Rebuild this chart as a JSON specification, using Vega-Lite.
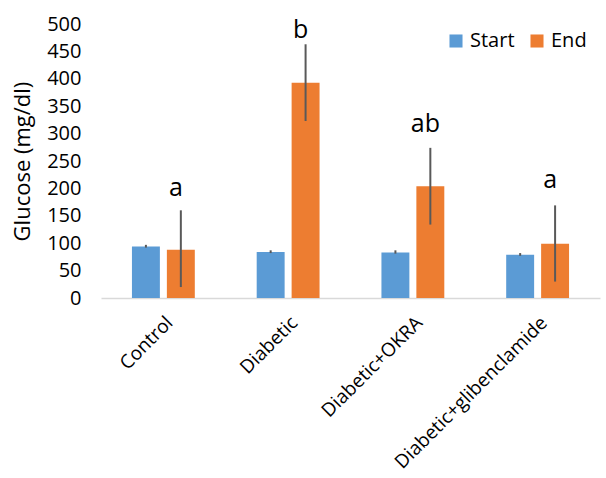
{
  "$schema": "https://vega.github.io/schema/vega-lite/v6.json",
  "width": 499,
  "height": 274,
  "autosize": {"type": "none"},
  "padding": {"left": 101, "top": 24, "right": 6, "bottom": 180},
  "background": "white",
  "config": {
    "view": {"stroke": null},
    "font": "Open Sans",
    "text": {"font": "Open Sans"},
    "axisY": {"titleFontSize": 22, "titleFontWeight": "normal", "titleColor": "#000000", "labelFontSize": 20, "labelColor": "#000000", "labelOverlap": false},
    "axisX": {"labelFontSize": 19, "labelColor": "#000000"},
    "legend": {"labelFontSize": 20, "labelColor": "#000000"}
  },
  "data": {
    "values": [
      {"group": "Control", "series": "Start", "mean": 94, "lo": 92, "hi": 97, "letter": "", "labelY": 0},
      {"group": "Control", "series": "End", "mean": 88, "lo": 20, "hi": 160, "letter": "a", "labelY": 200},
      {"group": "Diabetic", "series": "Start", "mean": 84, "lo": 82, "hi": 87, "letter": "", "labelY": 0},
      {"group": "Diabetic", "series": "End", "mean": 393, "lo": 323, "hi": 463, "letter": "b", "labelY": 489},
      {"group": "Diabetic+OKRA", "series": "Start", "mean": 83, "lo": 81, "hi": 87, "letter": "", "labelY": 0},
      {"group": "Diabetic+OKRA", "series": "End", "mean": 204, "lo": 134, "hi": 274, "letter": "ab", "labelY": 317},
      {"group": "Diabetic+glibenclamide", "series": "Start", "mean": 79, "lo": 77, "hi": 82, "letter": "", "labelY": 0},
      {"group": "Diabetic+glibenclamide", "series": "End", "mean": 99, "lo": 30, "hi": 169, "letter": "a", "labelY": 216}
    ]
  },
  "encoding": {
    "x": {
      "field": "group",
      "type": "nominal",
      "sort": null,
      "scale": {"paddingInner": 0, "paddingOuter": 0},
      "axis": {
        "title": null,
        "labelAngle": -45,
        "labelFontSize": 19,
        "labelLimit": 0,
        "labelColor": "#000000",
        "labelPadding": 15,
        "ticks": false,
        "domainColor": "#d9d9d9",
        "domainWidth": 1.5
      }
    },
    "xOffset": {
      "field": "series",
      "type": "nominal",
      "sort": ["Start", "End"],
      "scale": {"paddingInner": 0.2, "paddingOuter": 0.886}
    }
  },
  "layer": [
    {
      "mark": {"type": "bar"},
      "encoding": {
        "y": {
          "field": "mean",
          "type": "quantitative",
          "scale": {"domain": [0, 500], "nice": false},
          "axis": {
            "title": "Glucose (mg/dl)",
            "titlePadding": 12,
            "values": [0, 50, 100, 150, 200, 250, 300, 350, 400, 450, 500],
            "labelOverlap": false,
            "labelPadding": 20,
            "ticks": false,
            "domain": false,
            "grid": false
          }
        },
        "color": {
          "field": "series",
          "type": "nominal",
          "sort": ["Start", "End"],
          "scale": {"domain": ["Start", "End"], "range": ["#5B9BD5", "#ED7D31"]},
          "legend": {
            "title": null,
            "orient": "none",
            "direction": "horizontal",
            "legendX": 345,
            "legendY": 7,
            "symbolType": "square",
            "symbolSize": 170,
            "symbolStrokeWidth": 0,
            "labelFontSize": 20,
            "labelColor": "#000000",
            "columnPadding": 12,
            "labelOffset": 4
          }
        }
      }
    },
    {
      "mark": {"type": "rule", "color": "#595959", "strokeWidth": 2},
      "encoding": {
        "y": {
          "field": "lo",
          "type": "quantitative",
          "axis": {
            "title": "Glucose (mg/dl)",
            "titlePadding": 12,
            "values": [0, 50, 100, 150, 200, 250, 300, 350, 400, 450, 500],
            "labelOverlap": false,
            "labelPadding": 20,
            "ticks": false,
            "domain": false,
            "grid": false
          }
        },
        "y2": {"field": "hi"}
      }
    },
    {
      "transform": [{"filter": "datum.letter != ''"}],
      "mark": {"type": "text", "fontSize": 25, "color": "#000000", "dx": -5, "baseline": "middle"},
      "encoding": {
        "y": {
          "field": "labelY",
          "type": "quantitative",
          "axis": {
            "title": "Glucose (mg/dl)",
            "titlePadding": 12,
            "values": [0, 50, 100, 150, 200, 250, 300, 350, 400, 450, 500],
            "labelOverlap": false,
            "labelPadding": 20,
            "ticks": false,
            "domain": false,
            "grid": false
          }
        },
        "text": {"field": "letter"}
      }
    }
  ]
}
